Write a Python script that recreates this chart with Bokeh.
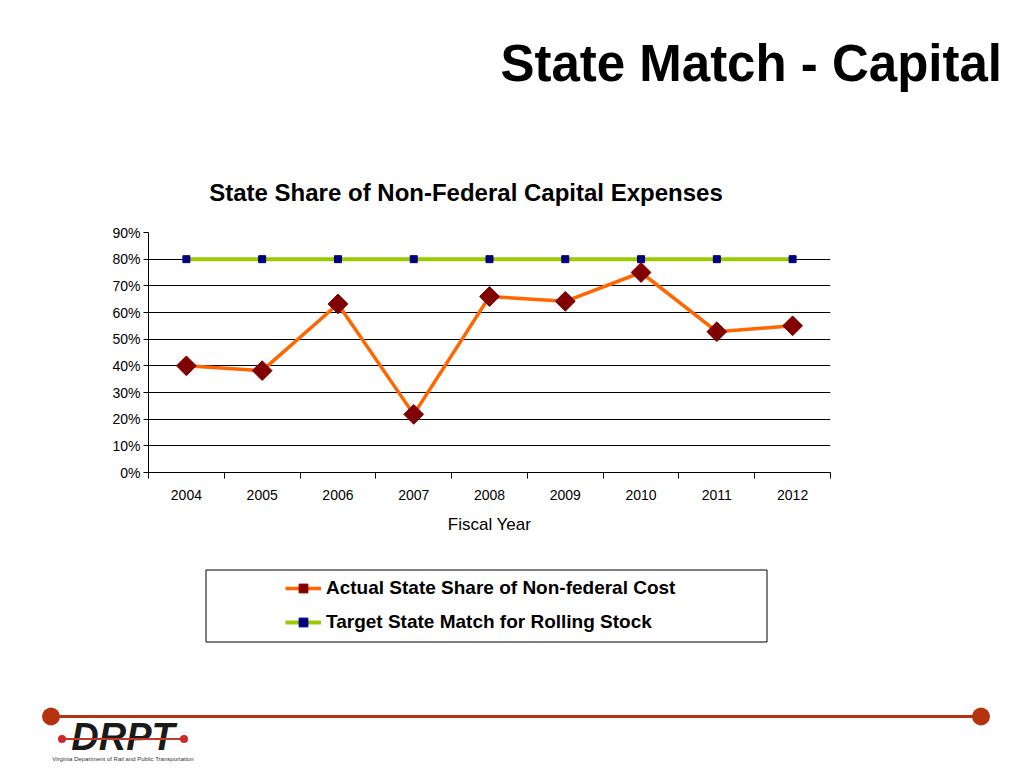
import math
from bokeh.plotting import figure
from bokeh.layouts import column
from bokeh.models import (FixedTicker, Legend, LegendItem, NumeralTickFormatter,
                          Range1d, Div)
from bokeh.embed import file_html
from bokeh.resources import INLINE

years = ["2004", "2005", "2006", "2007", "2008", "2009", "2010", "2011", "2012"]
actual = [0.40, 0.382, 0.632, 0.218, 0.66, 0.642, 0.75, 0.528, 0.55]
target = [0.80] * 9
yticks = [0, 0.1, 0.2, 0.3, 0.4, 0.5, 0.6, 0.7, 0.8, 0.9]
series_names = ["Actual State Share of Non-federal Cost",
                "Target State Match for Rolling Stock"]

W = 1016
header = Div(width=W, height=224, margin=0, text="""
<div style="position:relative;width:1016px;height:224px;font-family:'Liberation Sans',Arial,sans-serif;color:black;">
<div style="position:absolute;right:14px;top:38px;font-size:51px;font-weight:bold;line-height:1;">State Match - Capital</div>
<div style="position:absolute;left:0;width:932px;text-align:center;top:181px;font-size:24px;font-weight:bold;line-height:1;">State Share of Non-Federal Capital Expenses</div>
</div>""")

p = figure(width=W, height=316, output_backend="svg", toolbar_location=None,
           x_range=Range1d(0, len(years)), y_range=Range1d(0, 0.9),
           min_border_left=148, min_border_right=W - 830, min_border_top=8,
           min_border_bottom=68, margin=0)
p.outline_line_color = None
xs = [i + 0.5 for i in range(len(years))]

p.xaxis.ticker = FixedTicker(ticks=xs, minor_ticks=list(range(len(years) + 1)))
p.xaxis.major_label_overrides = {x: y for x, y in zip(xs, years)}
p.xaxis.major_tick_out = 0
p.xaxis.major_tick_in = 0
p.xaxis.minor_tick_out = 6
p.xaxis.minor_tick_in = 0
p.xaxis.minor_tick_line_color = "black"
p.xaxis.axis_line_color = "black"
p.xaxis.major_label_text_font = "Liberation Sans"
p.xaxis.major_label_text_font_size = "14px"
p.xaxis.major_label_text_color = "black"
p.xaxis.major_label_standoff = 11
p.xaxis.axis_label = "Fiscal Year"
p.xaxis.axis_label_text_font = "Liberation Sans"
p.xaxis.axis_label_text_font_size = "17px"
p.xaxis.axis_label_text_font_style = "normal"
p.xaxis.axis_label_text_color = "black"
p.xaxis.axis_label_standoff = 12

p.yaxis.ticker = FixedTicker(ticks=yticks, minor_ticks=[])
p.yaxis.formatter = NumeralTickFormatter(format="0%")
p.yaxis.major_tick_out = 5
p.yaxis.major_tick_in = 0
p.yaxis.axis_line_color = "black"
p.yaxis.major_label_text_font = "Liberation Sans"
p.yaxis.major_label_text_font_size = "14px"
p.yaxis.major_label_text_color = "black"
p.yaxis.major_label_standoff = 3

p.xgrid.visible = False
p.ygrid.ticker = FixedTicker(ticks=yticks)
p.ygrid.grid_line_color = "black"
p.ygrid.grid_line_width = 1

GREEN, NAVY, ORANGE, MAROON = "#99cc00", "#000080", "#ff6600", "#800000"
p.line(xs, target, line_color=GREEN, line_width=4)
p.scatter(xs, target, marker="square", size=7, fill_color=NAVY, line_color=NAVY)
p.line(xs, actual, line_color=ORANGE, line_width=3.5)
p.scatter(xs, actual, marker="square", angle=math.pi / 4, size=14,
          fill_color=MAROON, line_color=MAROON)

# legend panel (frame is aligned with the chart frame: page x 148..830)
f = figure(width=W, height=120, output_backend="svg", toolbar_location=None,
           x_range=Range1d(148, 830), y_range=Range1d(660, 540), min_border=0,
           margin=0, x_axis_location=None, y_axis_location=None)
f.grid.visible = False
f.outline_line_color = None
f.quad(left=[205.5], right=[766.5], top=[569.5], bottom=[641.5],
       fill_color=None, line_color="black", line_width=1)
fl1 = f.line([-50, -40], [0, 0], line_color=ORANGE, line_width=3.5)
fs1 = f.scatter([-45], [0], marker="square", angle=math.pi / 4, size=10,
                fill_color=MAROON, line_color=MAROON)
fl2 = f.line([-50, -40], [0, 0], line_color=GREEN, line_width=4)
fs2 = f.scatter([-45], [0], marker="square", size=7, fill_color=NAVY, line_color=NAVY)
legend = Legend(items=[LegendItem(label=series_names[0], renderers=[fl1, fs1]),
                       LegendItem(label=series_names[1], renderers=[fl2, fs2])],
                location=(137, 27), label_text_font="Liberation Sans",
                label_text_font_size="19px", label_text_font_style="bold",
                label_text_color="black", border_line_color=None,
                background_fill_alpha=0, padding=0, spacing=12, glyph_width=36,
                glyph_height=22, label_height=22, label_width=420, margin=0,
                label_standoff=5)
f.add_layout(legend, "center")

footer = Div(width=W, height=106, margin=0, text="""
<svg width="1016" height="106" xmlns="http://www.w3.org/2000/svg" style="display:block">
<line x1="50" y1="56.5" x2="981" y2="56.5" stroke="#b5320f" stroke-width="3"/>
<circle cx="51" cy="56.5" r="9" fill="#b5320f"/>
<circle cx="981" cy="56.5" r="9" fill="#b5320f"/>
<text x="123" y="90" text-anchor="middle" font-family="Liberation Sans" font-size="38" font-weight="bold" font-style="italic" fill="#1a1a1a">DRPT</text>
<line x1="64" y1="79" x2="182" y2="79" stroke="#c0392b" stroke-width="2"/>
<circle cx="62" cy="79" r="4" fill="#d02828"/>
<circle cx="184" cy="79" r="4" fill="#d02828"/>
<text x="123" y="101" text-anchor="middle" font-family="Liberation Sans" font-size="6" fill="#333">Virginia Department of Rail and Public Transportation</text>
</svg>""")

open("out.html", "w").write(file_html(column(header, p, f, footer, spacing=0), INLINE))
